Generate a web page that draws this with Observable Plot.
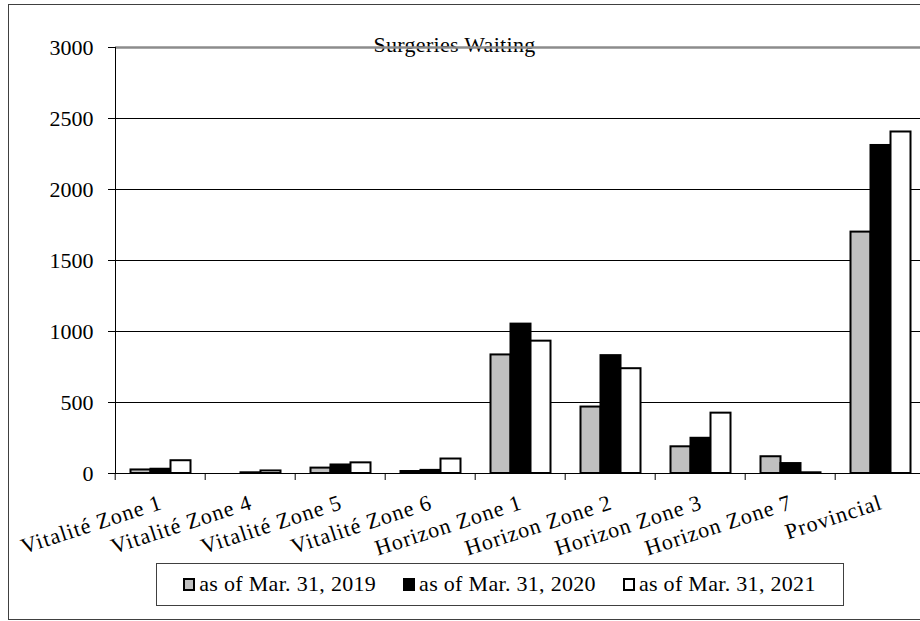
<!DOCTYPE html>
<html>
<head>
<meta charset="utf-8">
<script src="https://cdn.jsdelivr.net/npm/d3@7"></script>
<script src="https://cdn.jsdelivr.net/npm/@observablehq/plot@0.6"></script>
<style>
  body { margin: 0; background: #fff; overflow: hidden; }
  #wrap { position: relative; width: 920px; height: 621px; overflow: hidden; background: #fff;
          font-family: "Liberation Serif", "Times New Roman", serif; color: #000; }
  #border { position: absolute; left: 8px; top: 4px; width: 1000px; height: 616px;
            border: 1px solid #404040; box-sizing: border-box; }
  #title { position: absolute; left: 0; width: 909px; top: 34px; text-align: center;
           font-size: 22px; line-height: 22px; letter-spacing: 0.3px; }
  #chart { position: absolute; left: 0; top: 0; width: 940px; }
  #chart svg { max-width: none !important; }
  #chart svg text { font-family: "Liberation Serif", "Times New Roman", serif; }
  #chart svg .xlab text { letter-spacing: 1px; }
  #legend { position: absolute; left: 155.5px; top: 562.5px; width: 688px; height: 43.5px;
            border: 1px solid #404040; box-sizing: border-box; display: flex; align-items: center;
            justify-content: center; gap: 27px; font-size: 22px; letter-spacing: 0.3px; }
  .item { display: flex; align-items: center; gap: 4px; white-space: nowrap; }
  .sw { width: 12px; height: 13px; border: 2px solid #000; box-sizing: border-box; }
</style>
</head>
<body>
<div id="wrap">
  <div id="border"></div>
  <div id="title">Surgeries Waiting</div>
  <div id="chart"></div>
  <div id="legend"></div>
</div>
<script>
const categories = ["Vitalité Zone 1", "Vitalité Zone 4", "Vitalité Zone 5", "Vitalité Zone 6",
  "Horizon Zone 1", "Horizon Zone 2", "Horizon Zone 3", "Horizon Zone 7", "Provincial"];
const series = ["as of Mar. 31, 2019", "as of Mar. 31, 2020", "as of Mar. 31, 2021"];
const values2019 = [25, 0, 38, 14, 835, 468, 188, 118, 1700];
const values2020 = [30, 5, 60, 22, 1052, 830, 248, 70, 2310];
const values2021 = [90, 18, 75, 102, 932, 738, 425, 5, 2405];
const yTicks = [0, 500, 1000, 1500, 2000, 2500, 3000];
const seriesColors = ["#c0c0c0", "#000000", "#ffffff"];

const seriesValues = [values2019, values2020, values2021];
const rows = categories.flatMap((c, i) =>
  series.map((s, j) => ({category: c, series: s, value: seriesValues[j][i]})));

const chart = Plot.plot({
  width: 940,
  height: 560,
  marginLeft: 112.5,
  marginRight: 12,
  marginTop: 47,
  marginBottom: 87,
  style: {background: "transparent", fontFamily: "'Liberation Serif', serif", fontSize: "22px",
          color: "#000", overflow: "visible", maxWidth: "none"},
  fx: {domain: categories, paddingInner: 0, paddingOuter: 0, axis: null},
  x: {domain: series, paddingInner: 0, paddingOuter: 0.69, axis: null},
  y: {domain: [0, 3000], axis: null},
  color: {domain: series, range: seriesColors},
  marks: [
    Plot.gridY(yTicks.filter(t => t > 0 && t < 3000), {stroke: "#000", strokeOpacity: 1, strokeWidth: 1}),
    Plot.ruleY([3000], {stroke: "#8c8c8c", strokeWidth: 2.5}),
    Plot.barY(rows, {fx: "category", x: "series", y: "value", fill: "series", stroke: "#000", strokeWidth: 2}),
    Plot.ruleY([0], {stroke: "#000", strokeWidth: 1}),
    Plot.frame({anchor: "left", facetAnchor: "left", stroke: "#000", strokeWidth: 1}),
    Plot.axisY({ticks: yTicks, tickSize: 7, tickPadding: 15, label: null, fontSize: 22, tickFormat: d => String(d)}),
    Plot.axisFx({anchor: "bottom", tickSize: 7, tickFormat: () => "", label: null, dx: -45.3}),
    Plot.text(categories, {fx: d => d, text: d => d, frameAnchor: "bottom", textAnchor: "end",
      rotate: -18, dy: 35, dx: 3, fontSize: 22, className: "xlab"})
  ]
});
document.getElementById("chart").appendChild(chart);

const legend = document.getElementById("legend");
series.forEach((s, j) => {
  const item = document.createElement("div");
  item.className = "item";
  const sw = document.createElement("div");
  sw.className = "sw";
  sw.style.background = seriesColors[j];
  const label = document.createElement("span");
  label.textContent = s;
  item.appendChild(sw);
  item.appendChild(label);
  legend.appendChild(item);
});
</script>
</body>
</html>
